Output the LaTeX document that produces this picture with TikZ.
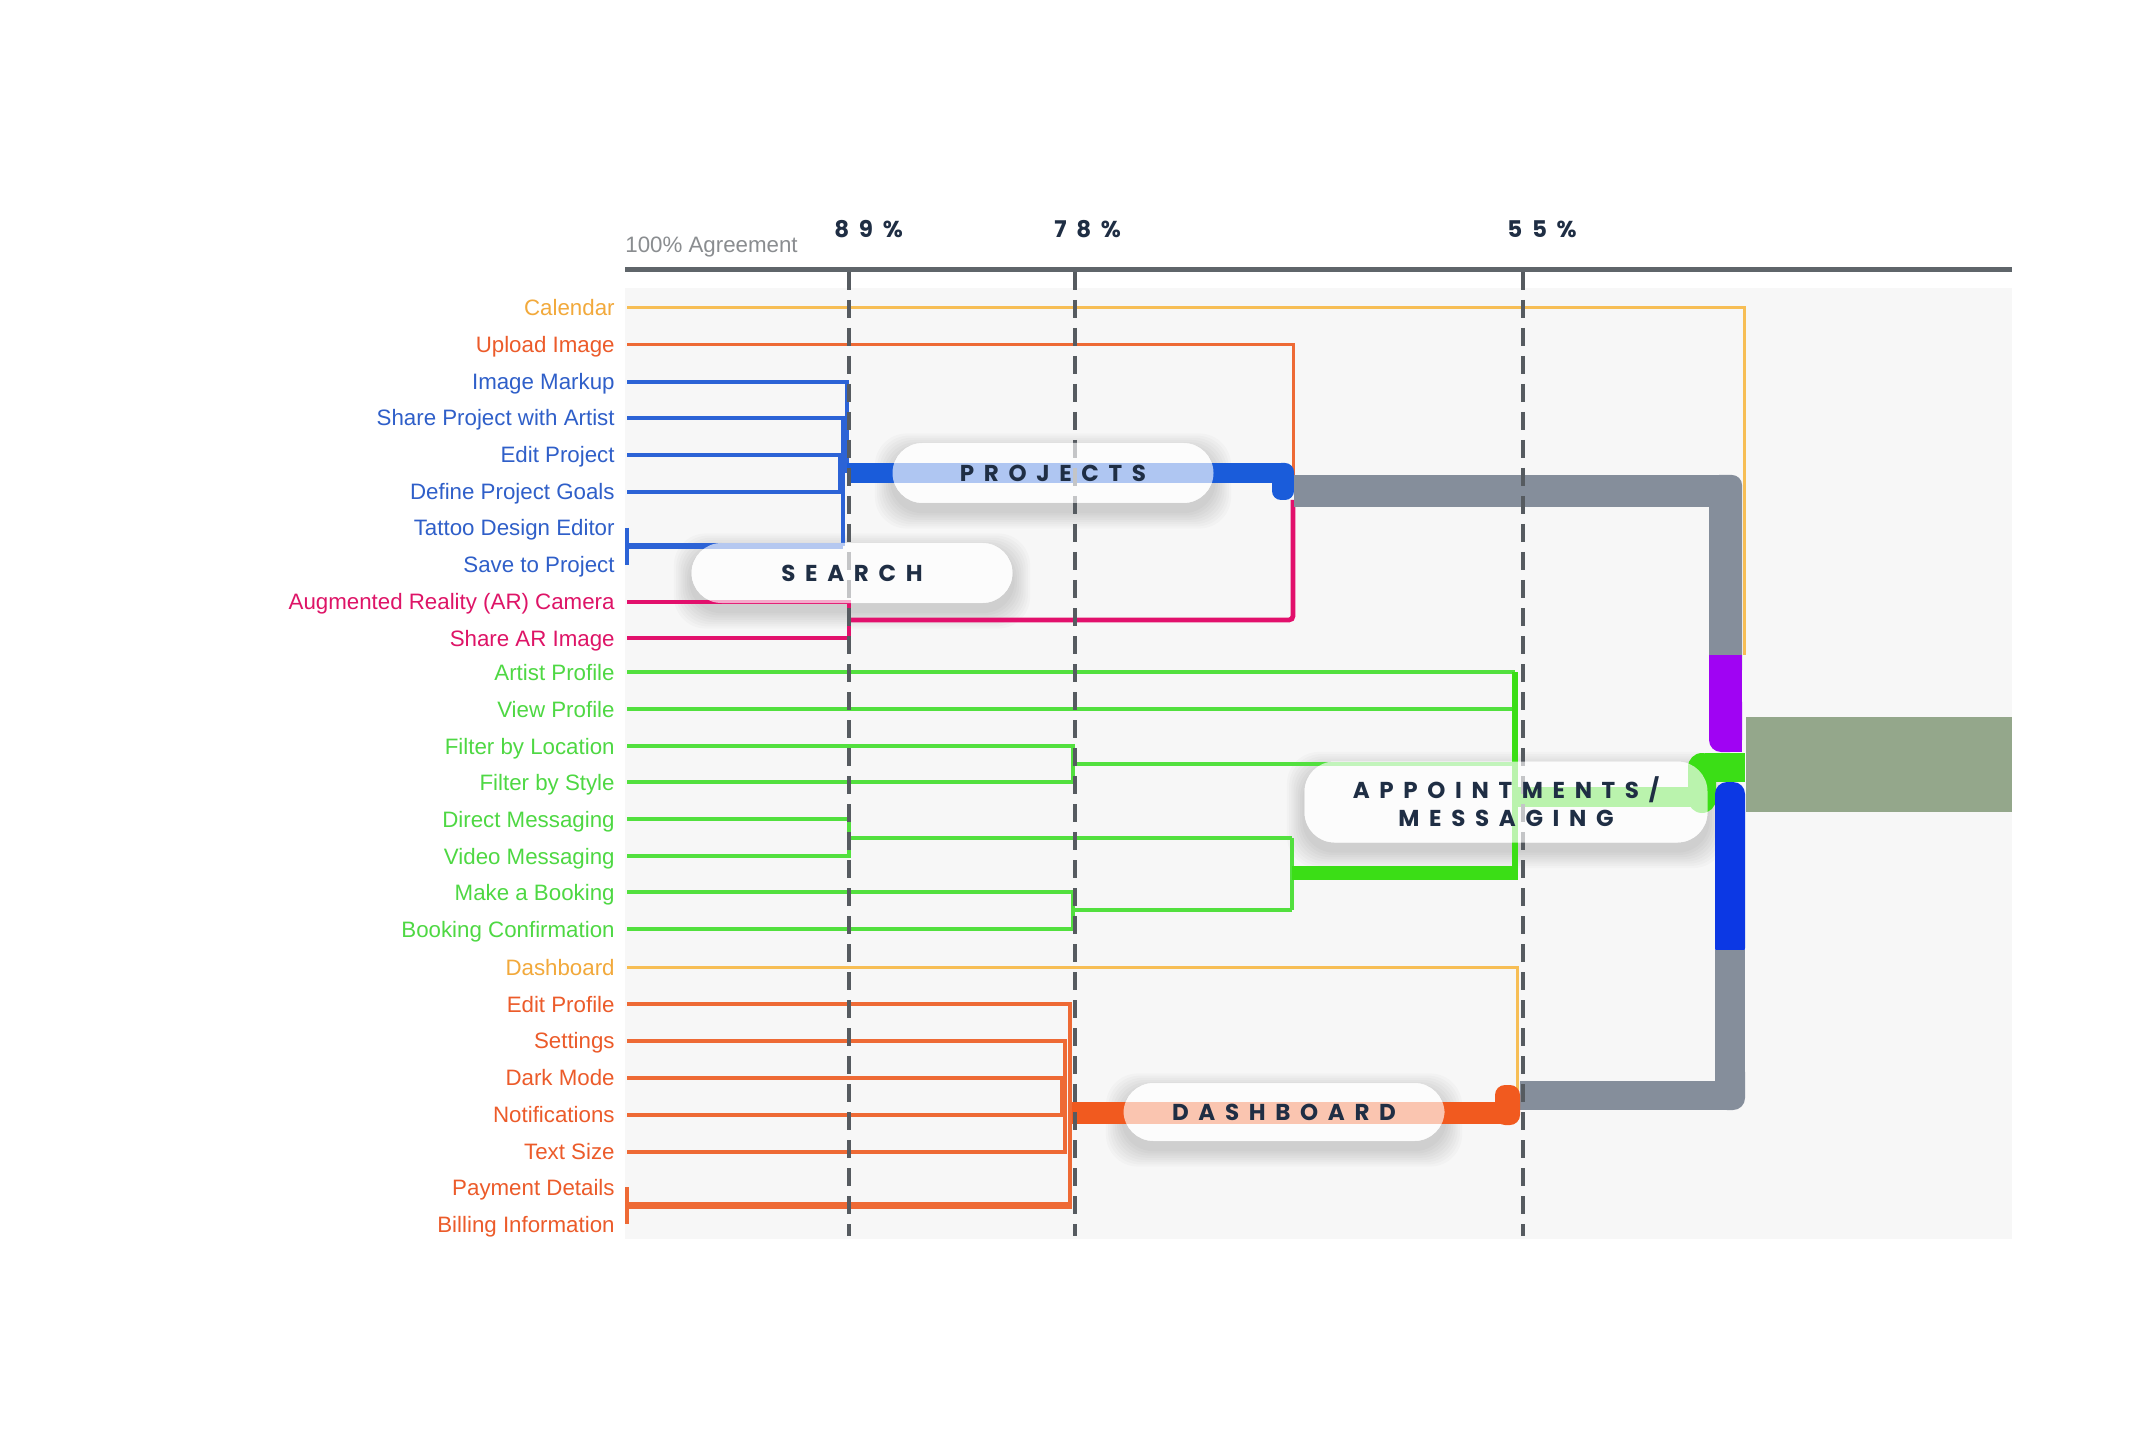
\documentclass[tikz,border=0pt]{standalone}
\usepackage{fontspec}
\setmainfont{Liberation Sans}
\newfontfamily\capfont{Poppins}[LetterSpace=42]
\definecolor{cPanel}{HTML}{F7F7F7}
\definecolor{cAxis}{HTML}{5F656A}
\definecolor{cDash}{HTML}{565B60}
\definecolor{cNavy}{HTML}{1F2E44}
\definecolor{cGrayTxt}{HTML}{8A8D90}
\definecolor{cYel}{HTML}{F7BE55}
\definecolor{cYelT}{HTML}{F2A93B}
\definecolor{cOr}{HTML}{EE6A35}
\definecolor{cOrT}{HTML}{F15A1F}
\definecolor{cOrTxt}{HTML}{EC5B2A}
\definecolor{cBlue}{HTML}{2C63D6}
\definecolor{cBlueT}{HTML}{1A5CDA}
\definecolor{cBlueTxt}{HTML}{2F5FC9}
\definecolor{cPink}{HTML}{E2106C}
\definecolor{cPinkTxt}{HTML}{DE1467}
\definecolor{cGreen}{HTML}{52E03E}
\definecolor{cGreenT}{HTML}{3BDE16}
\definecolor{cGreenTxt}{HTML}{4ED843}
\definecolor{cGray}{HTML}{858E9B}
\definecolor{cPur}{HTML}{A003F3}
\definecolor{cBlueR}{HTML}{0C38E4}
\definecolor{cGG}{HTML}{94A78B}
\newcommand\pillshadow[4]{%
  \begin{scope}[even odd rule, rounded corners=15pt]
    \clip (-50,-50) rectangle (2200,1500) ({#1-#3/2},{#2-#4/2}) rectangle ({#1+#3/2},{#2+#4/2});
    \foreach \s in {1,...,8}{
      \fill[black, fill opacity=0.018, rounded corners=16pt] ({#1-#3/2-2.2*\s},{#2-#4/2-2.2*\s+8}) rectangle ({#1+#3/2+2.2*\s},{#2+#4/2+2.2*\s+8});
    }
  \end{scope}}
\begin{document}
\begin{tikzpicture}[x=0.5pt,y=-0.5pt,
  lbl/.style={anchor=base east, inner sep=0pt, font=\fontsize{11.15}{13}\selectfont},
  leafline/.style={line width=1.75pt, line join=miter},
  bline/.style={leafline, draw=cBlue},
  oline/.style={leafline, draw=cOr},
  pline/.style={leafline, line width=2.4pt, draw=cPink},
  gline/.style={leafline, line width=2pt, draw=cGreen},
  yline/.style={leafline, line width=1.5pt, draw=cYel},
  dashline/.style={draw=cDash, line width=2.2pt, dash pattern=on 9pt off 5pt},
  pill/.style={fill=white, fill opacity=0.65, text opacity=1, rounded corners=15pt, inner sep=0pt, text=cNavy, align=center, font=\capfont\bfseries\fontsize{11.5}{14}\selectfont},
  pct/.style={anchor=base west, inner sep=0pt, text=cNavy, font=\capfont\bfseries\fontsize{11.5}{13}\selectfont}]
\useasboundingbox (0,0) rectangle (2130,1454);
\fill[white] (0,0) rectangle (2130,1454);
% panel and axis
\fill[cPanel] (625,288) rectangle (2012,1239);
\draw[cAxis, line width=2.5pt] (625,270) -- (2012,270);
% shadows of pills
\pillshadow{1053}{473}{321}{60}
\pillshadow{852}{573}{321}{60}
\pillshadow{1506}{802}{403}{81}
\pillshadow{1284}{1112}{321}{58}
% calendar / dashboard (yellow)
\draw[yline] (627,308) -- (1744,308) -- (1744,655);
\draw[yline] (627,967) -- (1517,967) -- (1517,1090);
% upload image
\draw[oline, line width=1.5pt] (627,345) -- (1293,345) -- (1293,475);
% blue project group
\draw[bline] (627,382) -- (847,382) -- (847,473);
\draw[bline] (627,418) -- (843,418) -- (843,546);
\draw[bline] (627,455) -- (840,455) -- (840,492) -- (627,492);
\draw[bline] (627,528) -- (627,565);
\draw[bline, line width=3pt] (627,546) -- (843,546);
\fill[cBlueT] (847,463) rectangle (1283,483);
\fill[cBlueT, rounded corners=4.5pt] (1272,463) rectangle (1294,500);
% pink group
\draw[pline] (627,602) -- (849,602) -- (849,638) -- (627,638);
\draw[pline, rounded corners=2pt] (849,620) -- (1293,620) -- (1293,500);
% gray upper
\fill[cGray] (1294,475) rectangle (1725,507);
\fill[cGray, rounded corners=5pt] (1709,475) rectangle (1742,680);
% purple
\fill[cPur] (1709,655) rectangle (1742,720);
\fill[cPur, rounded corners=6pt] (1709,690) rectangle (1742,752);
\fill[cPur] (1726,700) rectangle (1742,752);
% green group
\draw[gline] (627,672) -- (1515,672);
\draw[gline] (627,709) -- (1515,709);
\draw[gline] (627,746) -- (1073,746) -- (1073,782) -- (627,782);
\draw[gline] (1073,764) -- (1515,764);
\draw[gline] (627,819) -- (849,819) -- (849,856) -- (627,856);
\draw[gline] (849,838) -- (1292,838);
\draw[gline] (627,892) -- (1073,892) -- (1073,929) -- (627,929);
\draw[gline] (1073,910) -- (1292,910);
\draw[gline] (1292,838) -- (1292,910);
\draw[cGreenT, line width=7pt] (1292,873) -- (1518,873);
\draw[cGreenT, line width=3pt] (1515,672) -- (1515,880);
\fill[cGreenT] (1515,787) rectangle (1705,807);
\fill[cGreenT, rounded corners=7pt] (1688,753) rectangle (1716,813);
\fill[cGreenT] (1705,753) rectangle (1745,782);
% right blue and lower gray
\fill[cBlueR, rounded corners=6pt] (1715,782) rectangle (1745,960);
\fill[cGray] (1715,950) rectangle (1745,1090);
\fill[cGray, rounded corners=6pt] (1715,1060) rectangle (1745,1110);
\fill[cGray] (1520,1081) rectangle (1730,1110);
% orange dashboard group
\draw[oline] (627,1004) -- (1070,1004) -- (1070,1205);
\draw[oline] (627,1041) -- (1065,1041) -- (1065,1152) -- (627,1152);
\draw[oline] (627,1078) -- (1062,1078) -- (1062,1115) -- (627,1115);
\draw[oline] (627,1187) -- (627,1224);
\draw[oline, line width=3.5pt] (627,1205) -- (1072,1205);
\fill[cOrT] (1072,1102) rectangle (1508,1124);
\fill[cOrT, rounded corners=5pt] (1495,1085) rectangle (1520,1125);
% gray-green block
\fill[cGG] (1746,717) rectangle (2012,812);
% dashed thresholds
\draw[dashline] (849,272) -- (849,1236);
\draw[dashline] (1075,272) -- (1075,1236);
\draw[dashline] (1523,272) -- (1523,1236);
% pills
\node[pill, minimum width=160.5pt, minimum height=30pt] (projects) at (1053,473) {PROJECTS};
\node[pill, minimum width=160.5pt, minimum height=30pt] (search) at (852,573) {SEARCH};
\node[pill, minimum width=201.5pt, minimum height=40.5pt] (appoint) at (1506,802) {APPOINTMENTS/\\MESSAGING};
\node[pill, minimum width=160.5pt, minimum height=29pt] (dashb) at (1284,1112) {DASHBOARD};
% header
\node[anchor=base west, inner sep=0pt, text=cGrayTxt, font=\fontsize{11.15}{13}\selectfont] (agree) at (625,253) {100\% Agreement};
\node[pct] (p89) at (834,238) {89\%};
\node[pct] (p78) at (1054,238) {78\%};
\node[pct] (p55) at (1507,238) {55\%};
% labels
\node[lbl, text=cYelT] (l01) at (615,316) {Calendar};
\node[lbl, text=cOrTxt] (l02) at (615,353) {Upload Image};
\node[lbl, text=cBlueTxt] (l03) at (615,390) {Image Markup};
\node[lbl, text=cBlueTxt] (l04) at (615,426) {Share Project with Artist};
\node[lbl, text=cBlueTxt] (l05) at (615,463) {Edit Project};
\node[lbl, text=cBlueTxt] (l06) at (615,500) {Define Project Goals};
\node[lbl, text=cBlueTxt] (l07) at (615,536) {Tattoo Design Editor};
\node[lbl, text=cBlueTxt] (l08) at (615,573) {Save to Project};
\node[lbl, text=cPinkTxt] (l09) at (615,610) {Augmented Reality (AR) Camera};
\node[lbl, text=cPinkTxt] (l10) at (615,646) {Share AR Image};
\node[lbl, text=cGreenTxt] (l11) at (615,680) {Artist Profile};
\node[lbl, text=cGreenTxt] (l12) at (615,717) {View Profile};
\node[lbl, text=cGreenTxt] (l13) at (615,754) {Filter by Location};
\node[lbl, text=cGreenTxt] (l14) at (615,790) {Filter by Style};
\node[lbl, text=cGreenTxt] (l15) at (615,827) {Direct Messaging};
\node[lbl, text=cGreenTxt] (l16) at (615,864) {Video Messaging};
\node[lbl, text=cGreenTxt] (l17) at (615,900) {Make a Booking};
\node[lbl, text=cGreenTxt] (l18) at (615,937) {Booking Confirmation};
\node[lbl, text=cYelT] (l19) at (615,975) {Dashboard};
\node[lbl, text=cOrTxt] (l20) at (615,1012) {Edit Profile};
\node[lbl, text=cOrTxt] (l21) at (615,1048) {Settings};
\node[lbl, text=cOrTxt] (l22) at (615,1085) {Dark Mode};
\node[lbl, text=cOrTxt] (l23) at (615,1122) {Notifications};
\node[lbl, text=cOrTxt] (l24) at (615,1159) {Text Size};
\node[lbl, text=cOrTxt] (l25) at (615,1195) {Payment Details};
\node[lbl, text=cOrTxt] (l26) at (615,1232) {Billing Information};
\end{tikzpicture}
\end{document}
